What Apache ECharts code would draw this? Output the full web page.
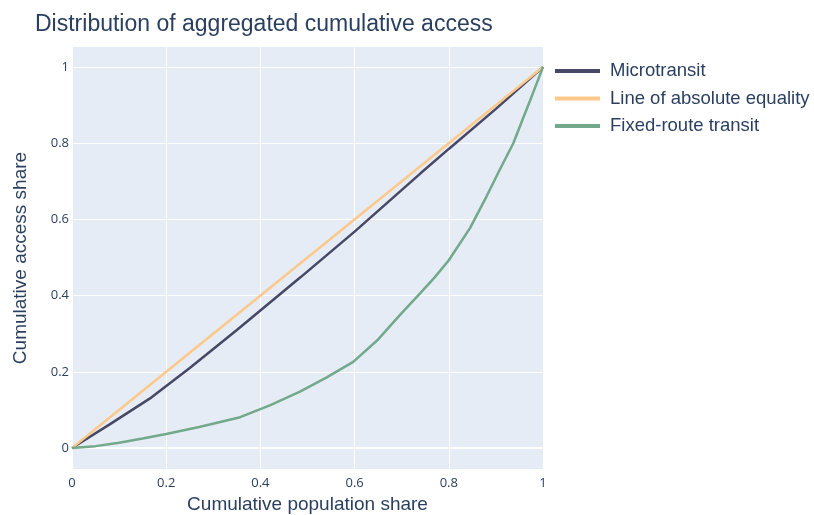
<!DOCTYPE html>
<html>
<head>
<meta charset="utf-8">
<script src="https://cdn.jsdelivr.net/npm/echarts@6/dist/echarts.min.js"></script>
<style>html,body{margin:0;padding:0;background:#fff}#c{width:814px;height:515px}</style>
</head>
<body>
<div id="c"></div>
<script>
const seriesNames = ['Microtransit', 'Line of absolute equality', 'Fixed-route transit'];
const microX = [0, 0.08, 0.169, 0.25, 0.35, 0.485, 0.6, 0.74, 0.8, 0.9, 1];
const microY = [0, 0.062, 0.133, 0.21, 0.31, 0.448, 0.568, 0.721, 0.785, 0.89, 1];
const equalX = [0, 1];
const equalY = [0, 1];
const fixedX = [0, 0.05, 0.1, 0.15, 0.2, 0.27, 0.357, 0.42, 0.484, 0.54, 0.597, 0.65, 0.696, 0.739, 0.77, 0.8, 0.845, 0.88, 0.91, 0.937, 0.955, 0.972, 0.986, 1];
const fixedY = [0, 0.005, 0.014, 0.025, 0.037, 0.055, 0.081, 0.112, 0.148, 0.185, 0.226, 0.285, 0.349, 0.406, 0.448, 0.493, 0.577, 0.66, 0.735, 0.80, 0.857, 0.91, 0.955, 1];
const tickValues = [0, 0.2, 0.4, 0.6, 0.8, 1];

const zip = (xs, ys) => xs.map((x, i) => [x, ys[i]]);
const colors = ['#474766', '#fdc98a', '#72a98a'];
const txt = '#2a3f5f';
const chart = echarts.init(document.getElementById('c'));
chart.setOption({
  animation: false,
  title: {
    text: 'Distribution of aggregated cumulative access',
    left: 30, top: 8,
    textStyle: { fontFamily: 'Liberation Sans, Arial, sans-serif', fontSize: 23, fontWeight: 'normal', color: txt }
  },
  legend: {
    orient: 'vertical', left: 550, top: 56,
    itemWidth: 45, itemHeight: 4, itemGap: 7.5, icon: 'rect',
    textStyle: { fontFamily: 'Liberation Sans, Arial, sans-serif', fontSize: 18.5, color: txt, lineHeight: 20, padding: [0,0,0,5] },
    data: seriesNames
  },
  grid: { left: 72, right: 271, top: 47, bottom: 46, show: true, backgroundColor: '#E5ECF6', borderWidth: 0, outerBoundsMode: 'none', containLabel: false },
  xAxis: {
    type: 'value', min: 0, max: 1, interval: 0.2,
    name: 'Cumulative population share', nameLocation: 'middle', nameGap: 25,
    nameTextStyle: { fontFamily: 'Liberation Sans, Arial, sans-serif', fontSize: 19, color: txt },
    axisLine: { show: false }, axisTick: { show: false },
    axisLabel: { fontFamily: 'Open Sans, sans-serif', fontSize: 13, color: txt, margin: 8 },
    splitLine: { show: true, lineStyle: { color: '#ffffff', width: 1 } }
  },
  yAxis: {
    type: 'value', min: -0.055, max: 1.0525,
    name: 'Cumulative access share', nameLocation: 'middle', nameGap: 42,
    nameTextStyle: { fontFamily: 'Liberation Sans, Arial, sans-serif', fontSize: 19, color: txt },
    axisLine: { show: false }, axisTick: { show: false, customValues: tickValues },
    axisLabel: { fontFamily: 'Open Sans, sans-serif', fontSize: 13, color: txt, margin: 3, customValues: tickValues },
    splitLine: { show: false }
  },
  series: [
    {
      name: 'grid', type: 'line', data: [], z: 1, silent: true,
      markLine: {
        silent: true, symbol: 'none', label: { show: false }, animation: false, z: 1,
        lineStyle: { color: '#ffffff', type: 'solid', width: 1 },
        data: tickValues.slice(1).map(v => ({ yAxis: v })).concat([{ yAxis: 0, lineStyle: { width: 2, color: '#ffffff', type: 'solid' } }])
      }
    },
    {
      name: seriesNames[0], type: 'line', data: zip(microX, microY), showSymbol: false,
      lineStyle: { color: colors[0], width: 2.5 }, itemStyle: { color: colors[0] }, z: 2
    },
    {
      name: seriesNames[1], type: 'line', data: zip(equalX, equalY), showSymbol: false,
      lineStyle: { color: colors[1], width: 2.5 }, itemStyle: { color: colors[1] }, z: 3
    },
    {
      name: seriesNames[2], type: 'line', data: zip(fixedX, fixedY), showSymbol: false,
      lineStyle: { color: colors[2], width: 2.5 }, itemStyle: { color: colors[2] }, z: 4
    }
  ]
});
</script>
</body>
</html>
